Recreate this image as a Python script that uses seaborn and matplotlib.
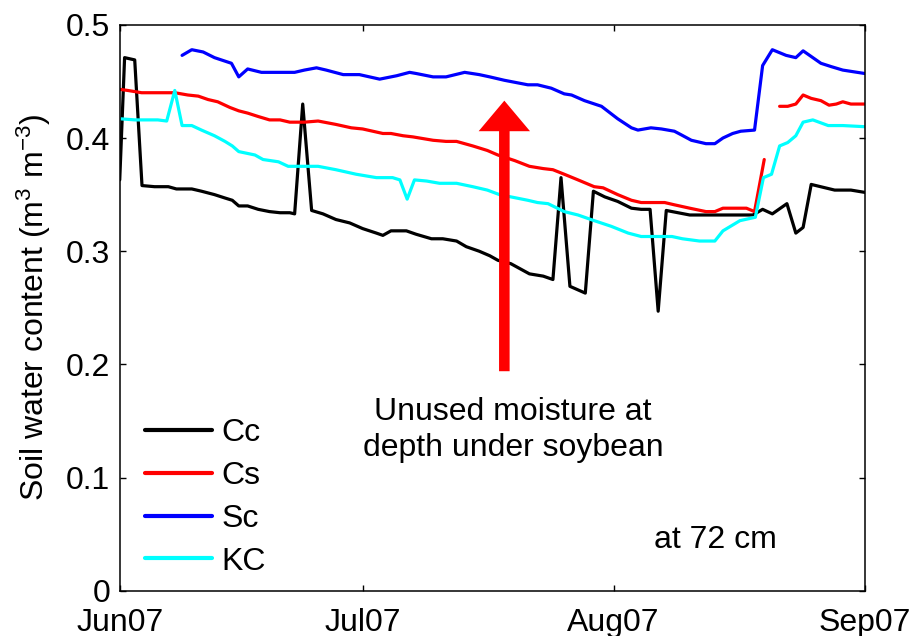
import matplotlib
matplotlib.use("Agg")
import matplotlib.pyplot as plt
import matplotlib.dates as mdates
import numpy as np
import pandas as pd
import seaborn as sns

START = pd.Timestamp("2007-06-01")

# days after 1 Jun 2007, soil water content (m3 m-3) at 72 cm
cc_day = [0, 0.6, 1.85, 2.75, 4.3, 6.0, 7.0, 8.9, 10.1, 11.7,
          13.0, 13.9, 14.7, 15.8, 17.1, 18.5, 19.8, 21.0, 21.6, 22.6,
          23.7, 25.1, 26.7, 28.4, 30.0, 31.7, 32.5, 33.5, 35.4, 36.6,
          38.5, 39.9, 41.6, 42.8, 44.4, 45.7, 46.7, 48.3, 50.6, 52.3,
          53.5, 54.5, 55.6, 57.5, 58.5, 59.9, 61.5, 63.2, 64.4, 65.5,
          66.5, 67.5, 70.4, 78.2, 79.4, 80.6, 82.4, 83.5, 84.4, 85.4,
          88.3, 90.3, 92.0]
cc_val = [0.363, 0.471, 0.469, 0.358, 0.357, 0.357, 0.355, 0.355, 0.353, 0.350,
          0.347, 0.345, 0.340, 0.340, 0.337, 0.335, 0.334, 0.334, 0.333, 0.430,
          0.336, 0.333, 0.328, 0.325, 0.320, 0.316, 0.314, 0.318, 0.318, 0.315,
          0.311, 0.311, 0.309, 0.304, 0.300, 0.296, 0.292, 0.289, 0.280, 0.278,
          0.275, 0.365, 0.269, 0.263, 0.353, 0.348, 0.344, 0.338, 0.337, 0.337,
          0.247, 0.336, 0.332, 0.332, 0.337, 0.333, 0.342, 0.316, 0.321, 0.359,
          0.354, 0.354, 0.352]

# NaN = missing readings (gap in the line)
cs_day = [0, 1.0, 2.7, 6.8, 8.4, 9.7, 10.9, 12.1, 13.6, 14.7,
          15.8, 17.1, 18.5, 19.8, 21.0, 22.8, 24.5, 26.7, 28.6, 30.0,
          32.5, 33.5, 35.0, 36.2, 38.7, 40.3, 41.6, 43.6, 45.4, 46.7,
          48.8, 50.6, 52.3, 53.5, 54.9, 56.6, 58.6, 59.7, 61.5, 63.2,
          64.4, 67.3, 68.5, 70.4, 72.4, 73.5, 74.5, 77.4, 78.4, 79.6,
          80.5,
          81.5, 82.5, 83.5, 84.4, 85.4, 86.6, 87.6, 88.5, 89.3, 90.3, 92.0]
cs_val = [0.443, 0.442, 0.440, 0.440, 0.438, 0.437, 0.434, 0.432, 0.427, 0.424,
          0.422, 0.419, 0.416, 0.416, 0.414, 0.414, 0.415, 0.412, 0.409, 0.408,
          0.404, 0.404, 0.402, 0.401, 0.398, 0.397, 0.397, 0.393, 0.389, 0.385,
          0.380, 0.375, 0.373, 0.372, 0.368, 0.363, 0.357, 0.356, 0.350, 0.345,
          0.343, 0.343, 0.341, 0.338, 0.335, 0.335, 0.338, 0.338, 0.335, 0.381,
          np.nan,
          0.428, 0.428, 0.430, 0.438, 0.435, 0.433, 0.429, 0.430, 0.432, 0.430, 0.430]

sc_day = [7.7, 8.9, 10.3, 11.7, 13.8, 14.7, 15.8, 17.5, 21.6, 22.8,
          24.3, 25.5, 27.6, 29.6, 32.1, 34.2, 35.8, 36.6, 38.7, 40.3,
          42.6, 44.4, 45.7, 47.5, 50.4, 51.6, 53.3, 54.9, 55.8, 57.4,
          59.5, 61.5, 63.2, 64.0, 65.6, 66.9, 68.5, 69.3, 70.6, 72.4,
          73.5, 74.5, 75.7, 76.7, 78.4, 79.4, 80.6, 82.3, 83.5, 84.4,
          85.4, 86.6, 87.9, 89.3, 92.0]
sc_val = [0.473, 0.478, 0.476, 0.471, 0.466, 0.454, 0.461, 0.458, 0.458, 0.460,
          0.462, 0.460, 0.456, 0.456, 0.452, 0.455, 0.458, 0.457, 0.454, 0.454,
          0.458, 0.456, 0.454, 0.451, 0.447, 0.447, 0.444, 0.439, 0.438, 0.433,
          0.428, 0.417, 0.409, 0.407, 0.409, 0.408, 0.406, 0.403, 0.398, 0.395,
          0.395, 0.400, 0.404, 0.406, 0.407, 0.464, 0.478, 0.473, 0.471, 0.477,
          0.472, 0.466, 0.463, 0.460, 0.457]

kc_day = [0, 1.9, 4.7, 5.8, 6.8, 7.7, 8.9, 10.1, 11.7, 13.0,
          13.9, 14.7, 16.7, 17.7, 19.6, 20.8, 22.8, 24.5, 26.7, 29.2,
          31.7, 33.7, 34.6, 35.5, 36.4, 37.9, 39.5, 41.6, 43.6, 45.4,
          46.9, 48.3, 50.4, 51.6, 52.9, 54.9, 56.6, 58.6, 60.7, 62.8,
          64.4, 68.2, 69.5, 71.6, 73.5, 74.5, 76.6, 78.5, 79.5, 80.5,
          81.5, 82.5, 83.5, 84.4, 85.6, 87.5, 89.3, 92.0]
kc_val = [0.417, 0.416, 0.416, 0.415, 0.442, 0.411, 0.411, 0.407, 0.402, 0.397,
          0.393, 0.388, 0.385, 0.381, 0.379, 0.375, 0.375, 0.375, 0.372, 0.368,
          0.365, 0.365, 0.363, 0.346, 0.363, 0.362, 0.360, 0.360, 0.357, 0.354,
          0.350, 0.348, 0.345, 0.343, 0.342, 0.335, 0.332, 0.327, 0.322, 0.316,
          0.313, 0.313, 0.311, 0.309, 0.309, 0.318, 0.327, 0.330, 0.365, 0.368,
          0.393, 0.396, 0.402, 0.414, 0.416, 0.411, 0.411, 0.410]

names = ["Cc", "Cs", "Sc", "KC"]
colors = {"Cc": "black", "Cs": "#ff0000", "Sc": "#0000ff", "KC": "#00ffff"}
month_ticks = ["2007-06-01", "2007-07-01", "2007-08-01", "2007-09-01"]
y_ticks = [0, 0.1, 0.2, 0.3, 0.4, 0.5]

# long table, split at NaN into segments
frames = []
for name, d, v in zip(names, [cc_day, cs_day, sc_day, kc_day],
                      [cc_val, cs_val, sc_val, kc_val]):
    f = pd.DataFrame({"day": d, "swc": v})
    f["seg"] = f["swc"].isna().cumsum()
    f = f.dropna()
    f["date"] = START + pd.to_timedelta(f["day"], unit="D")
    f["site"] = name
    f["unit"] = name + f["seg"].astype(str)
    frames.append(f)
df = pd.concat(frames, ignore_index=True)

sns.set_theme(style="ticks")
plt.rcParams["font.family"] = ["Liberation Sans", "DejaVu Sans"]
plt.rcParams["mathtext.default"] = "regular"
plt.rcParams["text.color"] = "black"
plt.rcParams["axes.labelcolor"] = "black"

FS = 23

fig = plt.figure(figsize=(9.14, 6.36), dpi=100)
ax = fig.add_axes([0.131, 0.071, 0.815, 0.890])

sns.lineplot(data=df, x="date", y="swc", hue="site", hue_order=names,
             units="unit", estimator=None, palette=colors, linewidth=2.3,
             sort=False, ax=ax)

ax.set_xlim(pd.Timestamp(month_ticks[0]), pd.Timestamp(month_ticks[-1]))
ax.set_ylim(0, 0.5)
ax.set_xticks([pd.Timestamp(t) for t in month_ticks])
ax.xaxis.set_major_formatter(mdates.DateFormatter("%b%y"))
ax.set_yticks(y_ticks)
ax.set_yticklabels(["0", "0.1", "0.2", "0.3", "0.4", "0.5"])
ax.tick_params(direction="in", top=True, right=True, length=4.5, width=1,
               labelsize=FS, colors="black")
ax.tick_params(axis="y", pad=7)
ax.tick_params(axis="x", pad=12)
for s in ax.spines.values():
    s.set_linewidth(1.1)
    s.set_color("black")

ax.set_xlabel("")
ax.set_ylabel("Soil water content (m$^3$ m$^{-3}$)", fontsize=FS, labelpad=9)

# arrow + notes
x_arr = mdates.date2num(START + pd.Timedelta(days=47.5))
ax.annotate("", xy=(x_arr, 0.433), xytext=(x_arr, 0.194),
            arrowprops=dict(arrowstyle="simple,head_length=1.1,head_width=1.85,tail_width=0.38",
                            color="#ff0000", mutation_scale=20,
                            shrinkA=0, shrinkB=0, lw=0))
ax.text(0.528, 0.284, "Unused moisture at\ndepth under soybean", transform=ax.transAxes,
        ha="center", va="center", fontsize=FS, linespacing=1.25)
ax.text(0.80, 0.09, "at 72 cm", transform=ax.transAxes, ha="center", va="center",
        fontsize=FS)

leg = ax.legend(loc="upper left", bbox_to_anchor=(0.034, 0.305), frameon=False,
                fontsize=FS, handlelength=2.1, handletextpad=0.3,
                labelspacing=0.4, borderaxespad=0, borderpad=0)
for h in leg.get_lines():
    h.set_linewidth(3)

fig.savefig("out.png", dpi=100)
plt.close()
